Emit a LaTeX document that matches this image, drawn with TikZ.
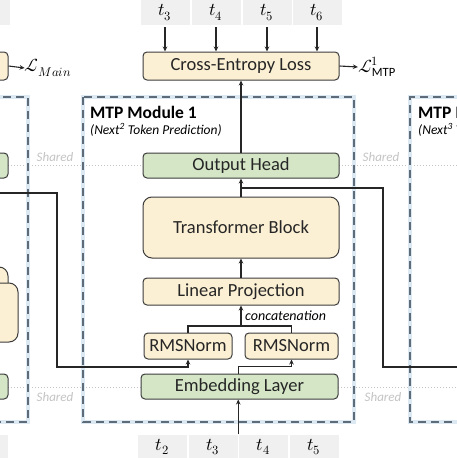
\documentclass[tikz,border=0pt]{standalone}
\usepackage{fontspec}
\usepackage{unicode-math}
\setmainfont{Carlito}
\setmathfont{Latin Modern Math}
\usetikzlibrary{arrows.meta,calc}
\definecolor{yel}{HTML}{FCF0D4}
\definecolor{grn}{HTML}{D4E6C6}
\definecolor{dashc}{HTML}{5E6B78}
\definecolor{halo}{HTML}{DCE8F2}
\definecolor{tokg}{HTML}{F0F0F0}
\definecolor{edge}{HTML}{3C3C3C}
\definecolor{shr}{HTML}{C4C4C4}
\begin{document}
\begin{tikzpicture}[x=1pt,y=-1pt,
  box/.style={draw=edge, line width=1pt, rounded corners=4pt, inner sep=0pt, font=\fontsize{18.5}{20}\selectfont, text=black!85},
  ybox/.style={box, fill=yel},
  gbox/.style={box, fill=grn},
  arr/.style={-{Stealth[length=5pt,width=4.5pt]}, line width=1.1pt, draw=black!85},
  ln/.style={line width=1.1pt, draw=black!85},
  tok/.style={fill=tokg, inner sep=0pt, minimum width=49pt, minimum height=25pt, font=\fontsize{18}{20}\selectfont},
  modhalo/.style={halo, line width=4pt},
  modbox/.style={dashc, line width=1.8pt, dash pattern=on 8pt off 5pt},
  shared/.style={shr, line width=1pt, dotted},
  shtxt/.style={font=\fontsize{13}{14}\selectfont\itshape, text=shr, inner sep=0pt},
]
\useasboundingbox (0,0) rectangle (457,458);
\fill[white] (0,0) rectangle (457,458);

% shared dotted lines
\draw[shared] (8,165) -- (143,165);
\draw[shared] (339,165) -- (457,165);
\draw[shared] (8,387) -- (141,387);
\draw[shared] (338,387) -- (457,387);
\node[shtxt] (sh1) at (55,157) {Shared};
\node[shtxt] (sh2) at (381,157) {Shared};
\node[shtxt] (sh3) at (55,397) {Shared};
\node[shtxt] (sh4) at (383,397) {Shared};

% module dashed boxes
\draw[modhalo] (-10,97) -- (28,97) -- (28,422) -- (-10,422);
\draw[modhalo] (83,97) rectangle (354,422);
\draw[modhalo] (467,97) -- (410,97) -- (410,422) -- (467,422);
\draw[modbox] (-10,97) -- (28,97) -- (28,422) -- (-10,422);
\draw[modbox] (83,97) rectangle (354,422);
\draw[modbox] (467,97) -- (410,97) -- (410,422) -- (467,422);

% titles
\node[anchor=west, inner sep=0pt, font=\fontsize{17.5}{19}\selectfont\bfseries] (t1) at (90,112) {MTP Module 1};
\node[anchor=west, inner sep=0pt, font=\fontsize{13.5}{15}\selectfont\itshape] (s1) at (90,130) {(Next\textsuperscript{2} Token Prediction)};
\node[anchor=west, inner sep=0pt, font=\fontsize{17.5}{19}\selectfont\bfseries] (t2) at (418,112) {MTP Module 2};
\node[anchor=west, inner sep=0pt, font=\fontsize{13.5}{15}\selectfont\itshape] (s2) at (418,130) {(Next\textsuperscript{3} Token Prediction)};

% left partial module pieces
\node[tok, minimum width=30pt] (lt0) at (-5,12.5) {};
\node[tok, minimum width=30pt] (lb0) at (-7,447) {};
\node[ybox, minimum width=40pt, minimum height=28pt] (lce) at (-12,66) {};
\node[gbox, minimum width=40pt, minimum height=25pt] (loh) at (-12,165.5) {};
\node[ybox, rounded corners=9pt, minimum width=60pt, minimum height=63pt] (ltb2) at (-22,298.5) {};
\node[ybox, rounded corners=9pt, minimum width=60pt, minimum height=59pt] (ltb1) at (-12,312.5) {};
\node[gbox, minimum width=40pt, minimum height=25pt] (lemb) at (-12,386.5) {};
\node[inner sep=0pt, font=\fontsize{18}{20}\selectfont] (lmain) at (48,68) {$\mathcal{L}_{Main}$};
\draw[arr] (lce.east) -- (lmain.west);

% main boxes
\node[ybox, minimum width=196pt, minimum height=28pt] (CE) at (241,66) {Cross-Entropy Loss};
\node[gbox, minimum width=196pt, minimum height=25pt] (OH) at (241,165.5) {Output Head};
\node[ybox, rounded corners=9pt, minimum width=196pt, minimum height=61pt] (TB) at (241,227.5) {Transformer Block};
\node[ybox, minimum width=196pt, minimum height=27pt] (LP) at (241,291.5) {Linear Projection};
\node[ybox, minimum width=88pt, minimum height=26pt] (R1) at (188,346) {RMSNorm};
\node[ybox, minimum width=93pt, minimum height=26pt] (R2) at (291.5,346) {RMSNorm};
\node[gbox, minimum width=197pt, minimum height=25pt] (EMB) at (239.5,386.5) {Embedding Layer};

\node[inner sep=0pt, font=\fontsize{18}{20}\selectfont] (lmtp) at (377,67) {$\mathcal{L}^{1}_{\mathrm{MTP}}$};
\draw[arr] (CE.east) -- (lmtp.west);

% top tokens
\node[tok] (a3) at (165,12.5) {$t_3$};
\node[tok] (a4) at (216,12.5) {$t_4$};
\node[tok] (a5) at (267,12.5) {$t_5$};
\node[tok] (a6) at (317,12.5) {$t_6$};
\foreach \n in {a3,a4,a5,a6} \draw[arr] ($(\n.south)+(0,2)$) -- (CE.north -| \n.south);

% bottom tokens
\node[tok] (b2) at (162.5,447) {$t_2$};
\node[tok] (b3) at (213,447) {$t_3$};
\node[tok] (b4) at (263.5,447) {$t_4$};
\node[tok] (b5) at (314,447) {$t_5$};
\coordinate (bin) at ($(b3.north east)!0.5!(b4.north west)$);
\draw[arr] (bin) -- (EMB.south -| bin);

% internal connectors
\draw[arr] (EMB.north -| bin) -- ++(0,-7) -| (R2.south);
\coordinate (lin) at (-2,193);
\draw[arr] (lin) -| (57,367) -| (R1.south);
\coordinate (cat) at (241,326);
\draw[ln] (R1.north) |- (cat) -| (R2.north);
\draw[arr] (cat) -- (LP.south);
\node[anchor=west, inner sep=0pt, font=\fontsize{14}{15}\selectfont\itshape] (catl) at (245,316) {concatenation};
\draw[arr] (LP.north) -- (TB.south);
\draw[arr] (TB.north) -- (OH.south);
\draw[arr] (OH.north) -- (CE.south);
\coordinate (br) at (241,188);
\coordinate (rout) at (460,367);
\draw[ln] (br) -| (383,367) -- (rout);
\end{tikzpicture}
\end{document}
